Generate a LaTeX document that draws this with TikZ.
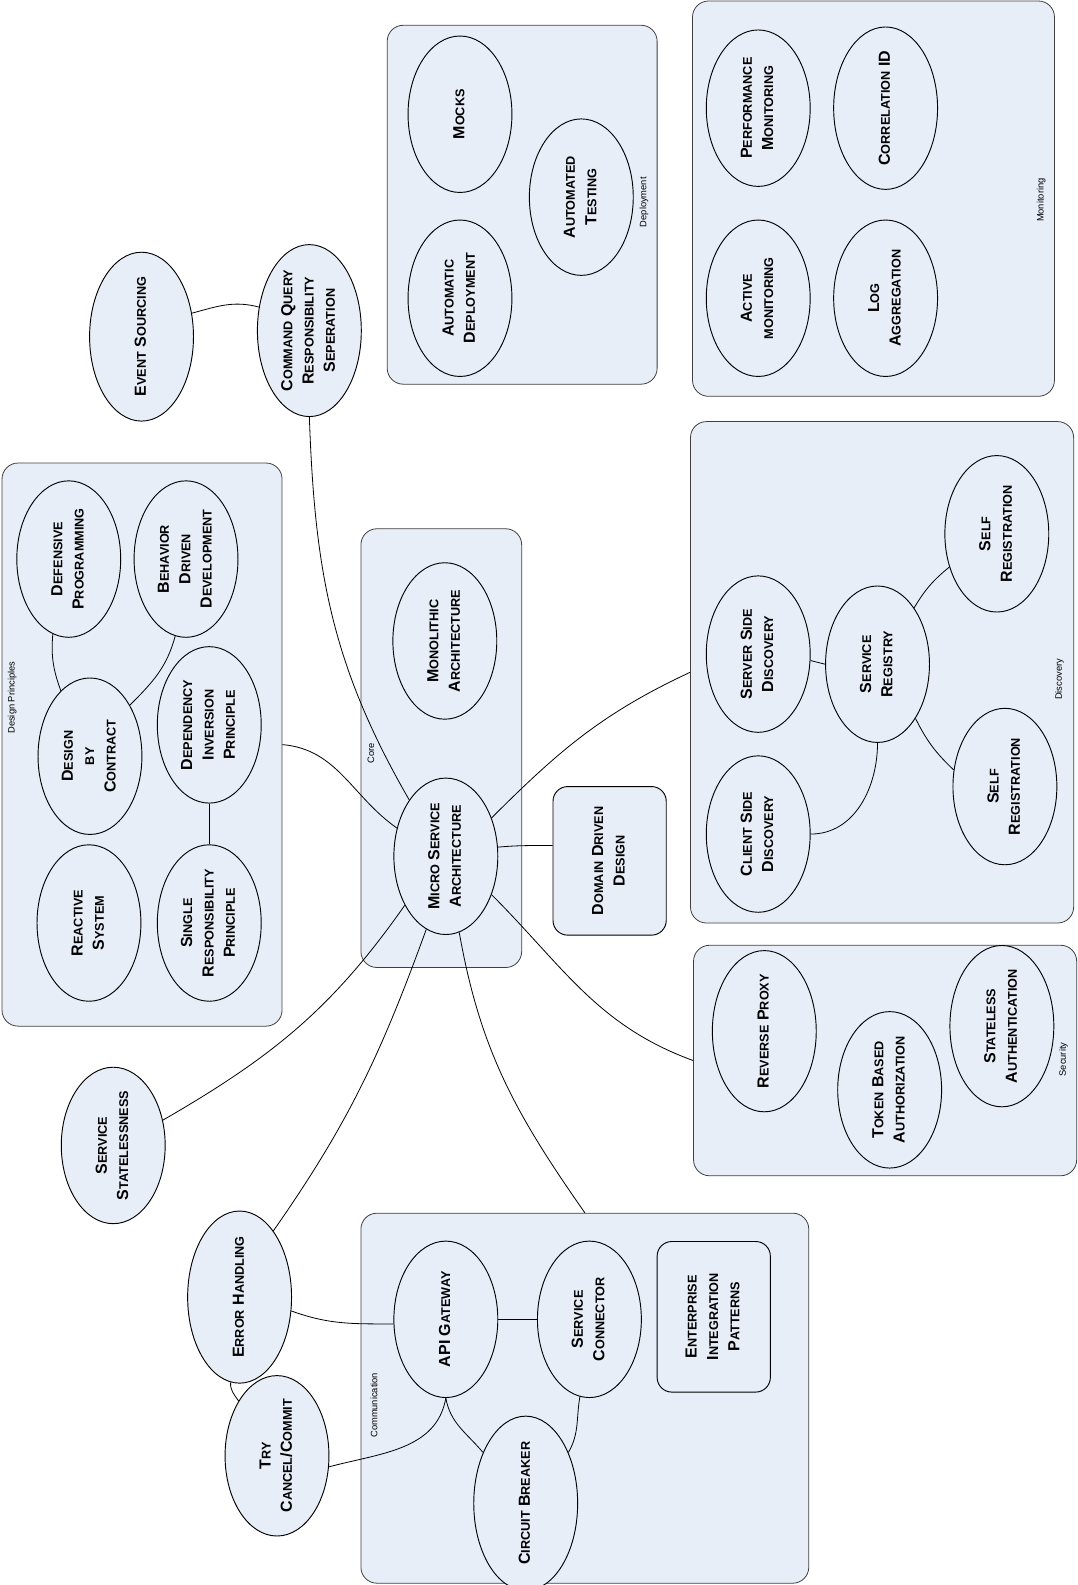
\documentclass[tikz,border=0pt]{standalone}
\usepackage{fontspec}
\setmainfont{Liberation Sans}
\usepackage{graphicx}
\usetikzlibrary{shapes.geometric,fit}
\definecolor{boxblue}{RGB}{232,238,248}
\newcommand\smc[1]{{\fontsize{9.5}{16}\selectfont #1}}
\newcommand\vtext[1]{\rotatebox{90}{\begin{tabular}{@{}c@{}}#1\end{tabular}}}
\tikzset{
  topic/.style={ellipse,draw,line width=0.7pt,fill=boxblue,minimum width=77.9pt,minimum height=117.3pt,inner sep=0pt,font=\bfseries\fontsize{12}{16}\selectfont},
  topicbox/.style={rectangle,draw,line width=0.7pt,fill=boxblue,rounded corners=11pt,inner sep=0pt,font=\bfseries\fontsize{12}{16}\selectfont},
  group/.style={rectangle,draw=black!75,line width=0.6pt,fill=boxblue,rounded corners=12pt,inner sep=0pt},
  grouplabel/.style={rotate=90,inner sep=0pt,font=\fontsize{7}{8}\selectfont},
}
\begin{document}
\begin{tikzpicture}[x=0.758pt,y=0.758pt]
      \useasboundingbox (0,0) rectangle (1066.3,-1567.8);
      \node[group,fit={(383,-25) (650,-380)}] (deploybox) {};
      \node[group,fit={(685,-1) (1043,-392)}] (monbox) {};
      \node[group,fit={(2,-458) (279,-1015)}] (dpbox) {};
      \node[group,fit={(357,-523) (516,-957)}] (corebox) {};
      \node[group,fit={(683,-417) (1062,-913)}] (discbox) {};
      \node[group,fit={(686,-935) (1065,-1163)}] (secbox) {};
      \node[group,fit={(357,-1200) (800,-1566)}] (commbox) {};
      \node[grouplabel] (deploylabel) at (637,-200) {Deployment};
      \node[grouplabel] (monlabel) at (1030,-198) {Monitoring};
      \node[grouplabel] (dplabel) at (12,-690) {Design Principles};
      \node[grouplabel] (corelabel) at (367,-745) {Core};
      \node[grouplabel] (disclabel) at (1048,-672) {Discovery};
      \node[grouplabel] (seclabel) at (1052,-1048) {Security};
      \node[grouplabel] (commlabel) at (370,-1390) {Communication};
      \draw
        (455,-113) node[topic] (mocks) {\vtext{M\smc{OCKS}}}
        (575,-195) node[topic] (autotest) {\vtext{A\smc{UTOMATED}\\T\smc{ESTING}}}
        (455,-295) node[topic] (autodeploy) {\vtext{A\smc{UTOMATIC}\\D\smc{EPLOYMENT}}}
        (750,-107) node[topic] (perfmon) {\vtext{P\smc{ERFORMANCE}\\M\smc{ONITORING}}}
        (876,-107) node[topic] (corrid) {\vtext{C\smc{ORRELATION} ID}}
        (750,-295) node[topic] (activemon) {\vtext{A\smc{CTIVE}\\\smc{MONITORING}}}
        (876,-295) node[topic] (logagg) {\vtext{L\smc{OG}\\A\smc{GGREGATION}}}
        (140,-333) node[topic] (evsrc) {\vtext{E\smc{VENT} S\smc{OURCING}}}
        (306,-327) node[topic] (cqrs) {\vtext{C\smc{OMMAND} Q\smc{UERY}\\R\smc{ESPONSIBILITY}\\S\smc{EPERATION}}}
        (68,-553) node[topic] (defprog) {\vtext{D\smc{EFENSIVE}\\P\smc{ROGRAMMING}}}
        (184,-553) node[topic] (bdd) {\vtext{B\smc{EHAVIOR}\\D\smc{RIVEN}\\D\smc{EVELOPMENT}}}
        (89,-748) node[topic] (dbc) {\vtext{D\smc{ESIGN}\\\smc{BY}\\C\smc{ONTRACT}}}
        (207,-717) node[topic] (dip) {\vtext{D\smc{EPENDENCY}\\I\smc{NVERSION}\\P\smc{RINCIPLE}}}
        (88,-913) node[topic] (reactive) {\vtext{R\smc{EACTIVE}\\S\smc{YSTEM}}}
        (207,-913) node[topic] (srp) {\vtext{S\smc{INGLE}\\R\smc{ESPONSIBILITY}\\P\smc{RINCIPLE}}}
        (440,-634) node[topic] (monolith) {\vtext{M\smc{ONOLITHIC}\\A\smc{RCHITECTURE}}}
        (441,-847) node[topic] (micro) {\vtext{M\smc{ICRO} S\smc{ERVICE}\\A\smc{RCHITECTURE}}}
        (750,-647) node[topic] (serverdisc) {\vtext{S\smc{ERVER} S\smc{IDE}\\D\smc{ISCOVERY}}}
        (868,-657) node[topic] (registry) {\vtext{S\smc{ERVICE}\\R\smc{EGISTRY}}}
        (986,-528) node[topic] (selfregA) {\vtext{S\smc{ELF}\\R\smc{EGISTRATION}}}
        (994,-778) node[topic] (selfregB) {\vtext{S\smc{ELF}\\R\smc{EGISTRATION}}}
        (750,-825) node[topic] (clientdisc) {\vtext{C\smc{LIENT} S\smc{IDE}\\D\smc{ISCOVERY}}}
        (756,-1020) node[topic] (revproxy) {\vtext{R\smc{EVERSE} P\smc{ROXY}}}
        (880,-1078) node[topic] (tokenauth) {\vtext{T\smc{OKEN} B\smc{ASED}\\A\smc{UTHORIZATION}}}
        (991,-1015) node[topic] (statelessauth) {\vtext{S\smc{TATELESS}\\A\smc{UTHENTICATION}}}
        (112,-1133) node[topic] (statelessness) {\vtext{S\smc{ERVICE}\\S\smc{TATELESSNESS}}}
        (237,-1283) node[topic] (errhandling) {\vtext{E\smc{RROR} H\smc{ANDLING}}}
        (274,-1440) node[topic] (trycommit) {\vtext{T\smc{RY}\\C\smc{ANCEL}/C\smc{OMMIT}}}
        (441,-1305) node[topic] (apigw) {\vtext{API G\smc{ATEWAY}}}
        (583,-1305) node[topic] (svcconn) {\vtext{S\smc{ERVICE}\\C\smc{ONNECTOR}}}
        (520,-1487) node[topic] (breaker) {\vtext{C\smc{IRCUIT} B\smc{REAKER}}}
        (603,-851.5) node[topicbox,minimum width=84.9pt,minimum height=111.4pt] (ddd) {\vtext{D\smc{OMAIN} D\smc{RIVEN}\\D\smc{ESIGN}}}
        (706,-1302.5) node[topicbox,minimum width=84.9pt,minimum height=112.9pt] (eip) {\vtext{E\smc{NTERPRISE}\\I\smc{NTEGRATION}\\P\smc{ATTERNS}}};
      \begin{scope}[line width=0.6pt]
        \draw (evsrc.25) to[out=15,in=165] (cqrs.155);
        \draw (cqrs.-90) to[out=-88,in=120] (micro.123);
        \draw (dpbox.east) to[out=-5,in=145] (micro.150);
        \draw (micro.40) to[out=45,in=205] (discbox.west);
        \draw (micro.10) to[out=5,in=180] (ddd.165);
        \draw (micro.-40) to[out=-45,in=160] (secbox.west);
        \draw (micro.-130) to[out=-125,in=30] (statelessness.27);
        \draw (micro.-105) to[out=-110,in=55] (errhandling.63);
        \draw (micro.-80) to[out=-80,in=125] (commbox.north);
        \draw (serverdisc.-7) -- (registry.west);
        \draw (registry.57) to[bend left=10] (selfregA.-145);
        \draw (registry.-55) to[bend right=10] (selfregB.162);
        \draw (registry.-90) to[out=-90,in=0] (clientdisc.east);
        \draw (defprog.-102) to[out=-95,in=110] (dbc.114);
        \draw (bdd.-98) to[out=-105,in=45] (dbc.52);
        \draw (dip.south) to (srp.north);
        \draw (errhandling.-15) to[out=-20,in=180] (apigw.185);
        \draw (errhandling.-96) to[out=-95,in=125] (trycommit.125);
        \draw (apigw.south) to[out=-100,in=15] (trycommit.-12);
        \draw (apigw.south) to[out=-80,in=130] (breaker.130);
        \draw (svcconn.-97) to[out=-100,in=60] (breaker.50);
        \draw (apigw.east) to (svcconn.west);
      \end{scope}
    \end{tikzpicture}
\end{document}
